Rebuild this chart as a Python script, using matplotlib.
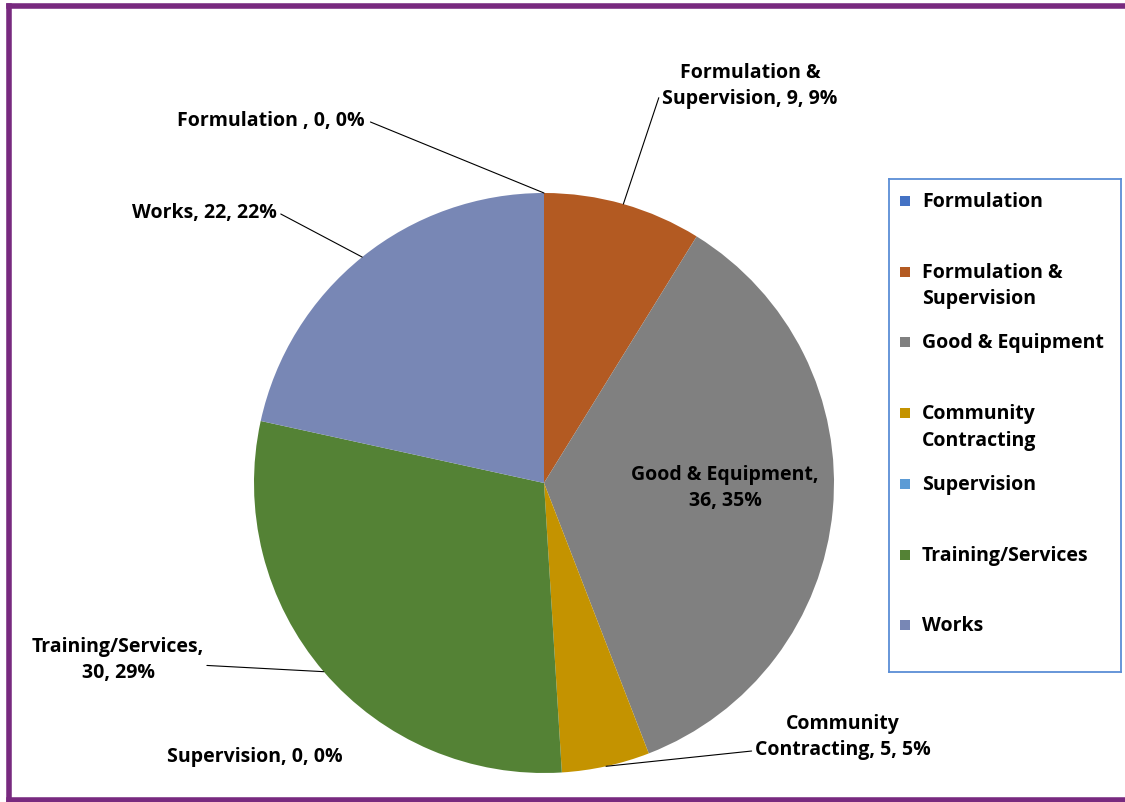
import numpy as np
import matplotlib.pyplot as plt
from matplotlib.patches import Rectangle
from matplotlib.lines import Line2D

plt.rcParams['font.family'] = ['Open Sans', 'DejaVu Sans']
plt.rcParams['font.weight'] = 'bold'

categories = ["Formulation", "Formulation & Supervision", "Good & Equipment",
              "Community Contracting", "Supervision", "Training/Services", "Works"]
values = [0, 9, 36, 5, 0, 30, 22]
colors = ["#4472C4", "#B35A22", "#808080", "#C49300", "#5B9BD5", "#548235", "#7887B5"]
legend_labels = ["Formulation", "Formulation &\nSupervision", "Good & Equipment",
                 "Community\nContracting", "Supervision", "Training/Services", "Works"]
# label text prefixes (Excel wraps some of them)
label_names = ["Formulation ", "Formulation &\nSupervision", "Good & Equipment,\n",
               "Community\nContracting", "Supervision", "Training/Services,\n", "Works"]

FS = 14
LS = 1.45
W, H = 1125, 802
fig = plt.figure(figsize=(W / 100, H / 100), dpi=100)

# pie axes: centre (544, 483) px, radius 290 px
cx, cy, r = 544, 483, 290
ax = fig.add_axes([(cx - r) / W, (H - cy - r) / H, 2 * r / W, 2 * r / H])
ax.pie(values, colors=colors, startangle=90, counterclock=False, radius=1,
       wedgeprops=dict(linewidth=0))
ax.set_xlim(-1, 1)
ax.set_ylim(-1, 1)
ax.set_aspect('equal')
ax.axis('off')

total = sum(values)
cum = np.cumsum([0] + values[:-1])
mid_deg = 90 - (cum + np.array(values) / 2) / total * 360


def lab(i):
    name = label_names[i]
    sep = "" if name.endswith("\n") else ", "
    return f"{name}{sep}{values[i]}, {round(values[i] / total * 100)}%"


# text centre (px from top-left), leader start relpos or None
label_pos = {
    0: ((271, 121), (1.03, 0.45)),
    1: ((750, 86), (-0.02, 0.25)),
    2: ((725, 488), None),
    3: ((843, 737), (-0.02, 0.2)),
    4: ((255, 757), None),
    5: ((118, 660), (0.83, 0.42)),
    6: ((204, 213), (1.03, 0.45)),
}

for i, ((tx, ty), rel) in label_pos.items():
    a = np.deg2rad(mid_deg[i])
    tpos = (tx / W, 1 - ty / H)
    if rel is None:
        ax.annotate(lab(i), xy=(0, 0), xytext=tpos, textcoords='figure fraction',
                    ha='center', va='center', fontsize=FS, fontweight='bold',
                    linespacing=LS, color='black')
    else:
        ax.annotate(lab(i), xy=(np.cos(a), np.sin(a)), xytext=tpos,
                    textcoords='figure fraction', ha='center', va='center',
                    fontsize=FS, fontweight='bold', linespacing=LS,
                    annotation_clip=False,
                    arrowprops=dict(arrowstyle='-', color='black', lw=0.8,
                                    shrinkA=0, shrinkB=0, relpos=rel))

# legend box
lx0, ly0, lw_, lh = 889, 179, 232, 493
lax = fig.add_axes([lx0 / W, (H - ly0 - lh) / H, lw_ / W, lh / H])
lax.set_xlim(0, lw_)
lax.set_ylim(lh, 0)
lax.set_xticks([])
lax.set_yticks([])
for s in lax.spines.values():
    s.set_color("#5B8ED6")
    s.set_linewidth(1.3)
for k, (lbl, c) in enumerate(zip(legend_labels, colors)):
    y = 22 + k * 70.7
    lax.add_patch(Rectangle((11, y - 5), 10, 10, facecolor=c, edgecolor='none'))
    lax.text(33, y - 9, lbl, ha='left', va='top', fontsize=FS, fontweight='bold',
             linespacing=LS)

# purple frame (left, top, bottom edges; right edge is cropped off)
frame = dict(color="#782A7F", linewidth=4, solid_capstyle='projecting',
             transform=fig.transFigure)
x_l, y_t, y_b = 8.5 / W, 1 - 5.5 / H, 1 - 799.5 / H
fig.add_artist(Line2D([x_l, x_l], [y_b, y_t], **frame))
fig.add_artist(Line2D([x_l, 1.01], [y_t, y_t], **frame))
fig.add_artist(Line2D([x_l, 1.01], [y_b, y_b], **frame))

fig.savefig("out.png", dpi=100)
